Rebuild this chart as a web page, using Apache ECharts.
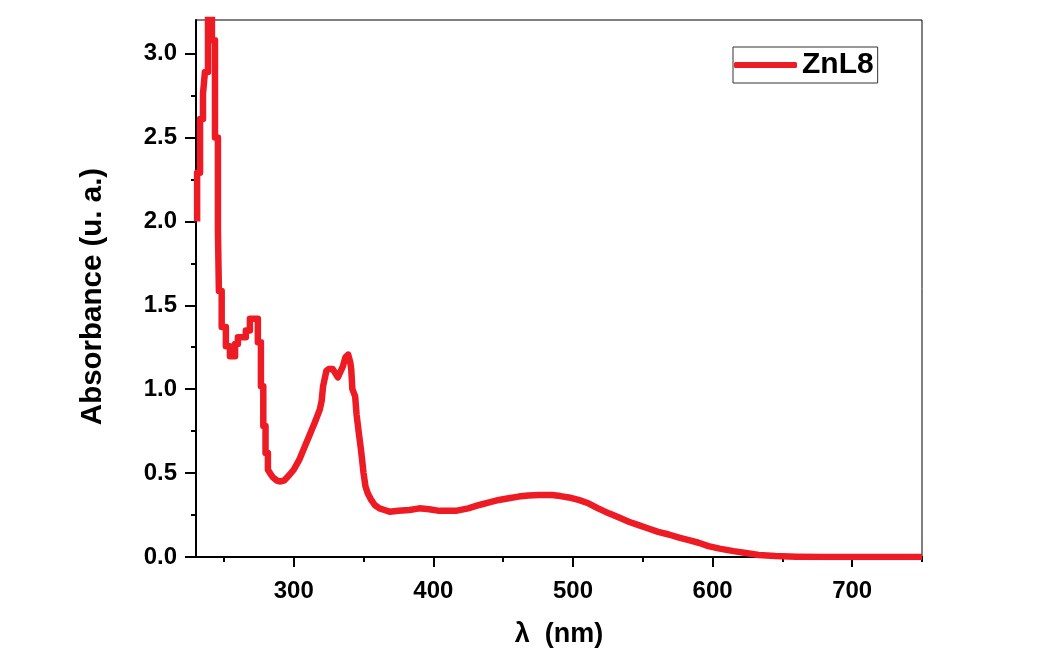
<!DOCTYPE html>
<html>
<head>
<meta charset="utf-8">
<script src="https://cdn.jsdelivr.net/npm/echarts@6/dist/echarts.min.js"></script>
<style>
html,body{margin:0;padding:0;background:#fff;}
#chart{width:1051px;height:650px;}
</style>
</head>
<body>
<div id="chart"></div>
<script>
// Wavelength (nm) and absorbance (corner points of the stepped trace)
const wavelength = [230.8,230.8,232.9,232.9,235.0,235.0,236.4,236.4,238.6,238.6,241.4,241.4,243.6,243.6,245.7,245.7,
  246.4,246.4,248.4,248.4,251.4,251.4,254.3,254.3,258,258,260,260,265.7,265.7,268.6,268.6,274.3,274.3,
  276.5,276.5,278.2,278.2,279.8,279.8,281.5,281.5,
  283,285,288,290,293,297,300,304,308,311,315,318.6,
  320,321,323.4,325,328,331.6,333,335.2,337,339,340.5,341.2,342,344,345,346.6,348,349,350,351.4,
  353,355.5,358,361.4,365,368.6,375,382.9,390,397,404.3,416,425,432.9,440,447,454,461,468,475.7,
  485,491,497,504,511,518,525.7,533,540,547,554,561,568.6,576,583,590,597,605,615,625,
  633,645,660,680,700,725,750];
const absorbance = [2.00,2.29,2.29,2.61,2.61,2.76,2.76,2.89,2.89,3.35,3.35,3.08,3.08,2.50,2.50,1.95,
  1.95,1.585,1.585,1.37,1.37,1.256,1.256,1.196,1.196,1.27,1.27,1.31,1.31,1.35,1.35,1.42,1.42,1.28,
  1.28,1.017,1.017,0.78,0.78,0.62,0.62,0.52,
  0.50,0.475,0.455,0.45,0.455,0.49,0.52,0.58,0.66,0.72,0.80,0.877,
  0.93,1.017,1.11,1.12,1.12,1.07,1.08,1.136,1.19,1.206,1.16,1.117,1.00,0.957,0.85,0.74,0.65,0.578,0.50,0.42,
  0.38,0.34,0.31,0.29,0.28,0.27,0.275,0.28,0.29,0.285,0.275,0.275,0.29,0.31,0.325,0.34,0.35,0.36,0.366,0.369,
  0.369,0.363,0.355,0.34,0.32,0.29,0.26,0.235,0.21,0.19,0.17,0.15,0.134,0.115,0.10,0.085,0.065,0.05,0.035,0.022,
  0.012,0.006,0.002,0,0,0,0];
const seriesName = 'ZnL8';
const xMajorTicks = [300,400,500,600,700];
const xMinorTicks = [250,350,450,550,650,750];
const yMajorTicks = [0,0.5,1.0,1.5,2.0,2.5,3.0];
const yMinorTicks = [0.25,0.75,1.25,1.75,2.25,2.75];
const xTitle = 'λ  (nm)';
const yTitle = 'Absorbance (u. a.)';

const data = wavelength.map((w, i) => [w, absorbance[i]]);
const FONT = '"Liberation Sans", Arial, sans-serif';
const RED = '#ed1c24';

const chart = echarts.init(document.getElementById('chart'), null, {renderer: 'canvas'});
chart.setOption({
  animation: false,
  backgroundColor: '#ffffff',
  grid: {left: 196, right: 129, top: 20, bottom: 93, containLabel: false, outerBoundsMode: 'none',
         show: true, borderColor: '#000', borderWidth: 1, backgroundColor: 'transparent'},
  legend: {
    left: 733, top: 47, orient: 'horizontal',
    padding: [3, 4, 3, 1],
    borderColor: '#333', borderWidth: 1,
    itemWidth: 63, itemHeight: 6, icon: 'roundRect',
    textStyle: {fontFamily: FONT, fontSize: 30, fontWeight: 'bold', color: '#000'},
    data: [{name: seriesName, itemStyle: {color: RED}}]
  },
  xAxis: [{
    type: 'value', min: 230, max: 750, position: 'bottom',
    name: xTitle, nameLocation: 'middle', nameGap: 64,
    nameTextStyle: {fontFamily: FONT, fontSize: 27, fontWeight: 'bold', color: '#000'},
    axisLine: {show: true, onZero: false, lineStyle: {color: '#000', width: 2}},
    axisTick: {show: true, inside: false, length: 10, customValues: xMajorTicks, lineStyle: {color: '#000', width: 2}},
    axisLabel: {show: true, margin: 22, customValues: xMajorTicks, fontFamily: FONT, fontSize: 24, fontWeight: 'bold', color: '#000'},
    splitLine: {show: false}
  }, {
    type: 'value', min: 230, max: 750, position: 'bottom', gridIndex: 0,
    axisLine: {show: false},
    axisTick: {show: true, inside: false, length: 5, customValues: xMinorTicks, lineStyle: {color: '#000', width: 2}},
    axisLabel: {show: false},
    splitLine: {show: false}
  }],
  yAxis: [{
    type: 'value', min: 0, max: 3.2, position: 'left',
    name: yTitle, nameLocation: 'middle', nameGap: 88, nameRotate: 90,
    nameTextStyle: {fontFamily: FONT, fontSize: 29.5, fontWeight: 'bold', color: '#000', padding: [0, 16, 0, 0]},
    axisLine: {show: true, onZero: false, lineStyle: {color: '#000', width: 2}},
    axisTick: {show: true, inside: false, length: 11, customValues: yMajorTicks, lineStyle: {color: '#000', width: 2}},
    axisLabel: {show: true, margin: 19, customValues: yMajorTicks, formatter: v => v.toFixed(1), fontFamily: FONT, fontSize: 24, fontWeight: 'bold', color: '#000'},
    splitLine: {show: false}
  }, {
    type: 'value', min: 0, max: 3.2, position: 'left', gridIndex: 0,
    axisLine: {show: false},
    axisTick: {show: true, inside: false, length: 5, customValues: yMinorTicks, lineStyle: {color: '#000', width: 2}},
    axisLabel: {show: false},
    splitLine: {show: false}
  }],
  series: [{
    name: seriesName, type: 'line', xAxisIndex: 0, yAxisIndex: 0,
    data: data, showSymbol: false, symbol: 'none', smooth: false, clip: true,
    lineStyle: {color: RED, width: 6.5, join: 'round'},
    itemStyle: {color: RED}
  }]
});
</script>
</body>
</html>
